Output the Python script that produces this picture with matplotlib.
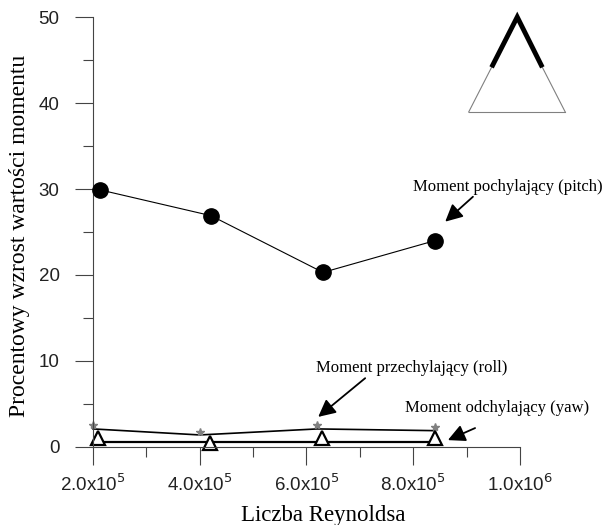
import matplotlib.pyplot as plt
from matplotlib.ticker import MultipleLocator

reynolds_pitch = [2.13e5, 4.21e5, 6.31e5, 8.41e5]
pitch_values = [29.9, 26.9, 20.3, 24.0]

reynolds_roll = [2.0e5, 4.0e5, 6.2e5, 8.4e5]
roll_values = [2.1, 1.4, 2.1, 1.9]

reynolds_yaw = [2.1e5, 4.2e5, 6.3e5, 8.4e5]
yaw_values = [1.1, 0.5, 1.1, 1.1]
yaw_line = [0.6, 0.6, 0.6, 0.6]

x_ticks = [2e5, 4e5, 6e5, 8e5, 1e6]
x_tick_labels = ["2.0x10$^{5}$", "4.0x10$^{5}$", "6.0x10$^{5}$", "8.0x10$^{5}$", "1.0x10$^{6}$"]

serif = "Liberation Serif"
sans = "Liberation Sans"

fig = plt.figure(figsize=(6.16, 5.25), dpi=100)
ax = fig.add_axes([0.151, 0.1486, 0.693, 0.819])

ax.plot(reynolds_pitch, pitch_values, "o", linestyle="solid", color="black",
        markersize=11, linewidth=0.8, clip_on=False, zorder=3)
ax.plot(reynolds_roll, roll_values, "-", color="black", linewidth=1.2, clip_on=False)
ax.plot(reynolds_roll, [v + 0.4 for v in roll_values], "*", color="gray",
        markersize=6, linestyle="none", clip_on=False)
ax.plot(reynolds_yaw, yaw_line, "-", color="black", linewidth=1.6, clip_on=False)
ax.plot(reynolds_yaw, yaw_values, "^", color="black", markerfacecolor="white",
        markersize=10, markeredgewidth=1.6, linestyle="none", clip_on=False)

ax.set_xlim(2e5, 1e6)
ax.set_ylim(0, 50)
ax.set_xticks(x_ticks)
ax.set_xticklabels(x_tick_labels, fontfamily=sans, fontsize=13.5, color="#222222")
ax.xaxis.set_minor_locator(MultipleLocator(1e5))
ax.yaxis.set_major_locator(MultipleLocator(10))
ax.yaxis.set_minor_locator(MultipleLocator(5))
for lab in ax.get_yticklabels():
    lab.set_fontfamily(sans)
    lab.set_fontsize(13.5)
    lab.set_color("#222222")
ax.tick_params(which="major", length=13, width=0.8, color="#444444", pad=6)
ax.tick_params(which="minor", length=7, width=0.8, color="#444444")
ax.tick_params(axis="y", which="major", pad=11)

ax.spines["top"].set_visible(False)
ax.spines["right"].set_visible(False)
ax.spines["left"].set_color("#444444")
ax.spines["bottom"].set_color("#444444")

ax.set_xlabel("Liczba Reynoldsa", fontfamily=serif, fontsize=16.5)
ax.xaxis.set_label_coords(0.54, -0.135)
ax.set_ylabel("Procentowy wzrost wartości momentu", fontfamily=serif, fontsize=17)
ax.yaxis.set_label_coords(-0.148, 0.49)

arrow = dict(arrowstyle="-|>", color="black", lw=1.3, mutation_scale=26, shrinkA=0, shrinkB=0)

ax.text(9.78e5, 29.3, "Moment pochylający (pitch)", fontfamily=serif, fontsize=12,
        ha="center", va="bottom", clip_on=False)
ax.annotate("", xy=(8.6e5, 26.2), xytext=(9.12e5, 29.1), arrowprops=arrow, annotation_clip=False)

ax.text(7.98e5, 8.3, "Moment przechylający (roll)", fontfamily=serif, fontsize=12,
        ha="center", va="bottom", clip_on=False)
ax.annotate("", xy=(6.22e5, 3.5), xytext=(7.1e5, 8.0), arrowprops=arrow, annotation_clip=False)

ax.text(9.57e5, 3.6, "Moment odchylający (yaw)", fontfamily=serif, fontsize=12,
        ha="center", va="bottom", clip_on=False)
ax.annotate("", xy=(8.65e5, 0.8), xytext=(9.16e5, 2.2), arrowprops=arrow, annotation_clip=False)

# maly trojkat w prawym gornym rogu
apex = (9.95e5, 50)
left = (9.04e5, 38.95)
right = (10.85e5, 38.95)
mid_left = (9.49e5, 44.4)
mid_right = (10.4e5, 44.4)
ax.plot([left[0], right[0]], [left[1], right[1]], color="gray", lw=0.8, clip_on=False)
ax.plot([left[0], mid_left[0]], [left[1], mid_left[1]], color="gray", lw=0.8, clip_on=False)
ax.plot([right[0], mid_right[0]], [right[1], mid_right[1]], color="gray", lw=0.8, clip_on=False)
ax.plot([mid_left[0], apex[0], mid_right[0]], [mid_left[1], apex[1], mid_right[1]],
        color="black", lw=3.5, clip_on=False, solid_joinstyle="miter")

fig.savefig("out.png", dpi=100)
